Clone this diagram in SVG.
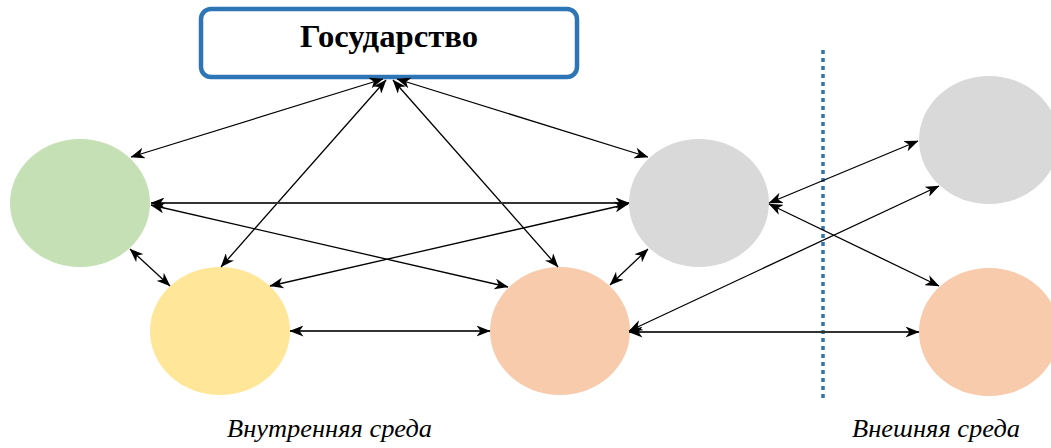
<svg xmlns="http://www.w3.org/2000/svg" width="1051" height="448" viewBox="0 0 1051 448">
<defs>
<marker id="ah" viewBox="0 0 14 11" refX="13.5" refY="5.5" markerWidth="14" markerHeight="11" markerUnits="userSpaceOnUse" orient="auto-start-reverse">
<path d="M0,0 L14,5.5 L0,11 L4,5.5 z" fill="#000"/>
</marker>
</defs>
<style>
.c{stroke:none}
.l{stroke:#000;stroke-width:1.3;fill:none;marker-start:url(#ah);marker-end:url(#ah)}
.h{stroke:#333;stroke-width:1.8}
.lbl{font-family:"Liberation Serif",serif;font-style:italic;font-size:25px;fill:#000}
</style>
<rect width="1051" height="448" fill="#fff"/>
<g id="divider">
<line x1="823" y1="50" x2="823" y2="399" stroke="#2E75B6" stroke-width="3.5" stroke-dasharray="4 4"/>
</g>
<g id="node-state">
<rect x="201" y="9" width="376" height="68" rx="10" ry="10" fill="#fff" stroke="#2E75B6" stroke-width="4.5"/>
<text x="389" y="47" text-anchor="middle" font-family="Liberation Serif,serif" font-weight="bold" font-size="32" textLength="178" lengthAdjust="spacingAndGlyphs">Государство</text>
</g>
<g id="node-green"><ellipse class="c" cx="80" cy="203" rx="70" ry="64" fill="#C5E0B4"/></g>
<g id="node-yellow"><ellipse class="c" cx="220" cy="331" rx="70" ry="64" fill="#FFE699"/></g>
<g id="node-gray-mid"><ellipse class="c" cx="699" cy="203" rx="70" ry="64" fill="#D9D9D9"/></g>
<g id="node-orange-mid"><ellipse class="c" cx="560" cy="331" rx="70" ry="64" fill="#F8CBAD"/></g>
<g id="node-gray-right"><ellipse class="c" cx="989" cy="140" rx="70" ry="64" fill="#D9D9D9"/></g>
<g id="node-orange-right"><ellipse class="c" cx="989" cy="332" rx="70" ry="64" fill="#F8CBAD"/></g>
<g id="connectors">
<line class="l" x1="383" y1="79" x2="131" y2="157"/>
<line class="l" x1="386" y1="80" x2="221" y2="267"/>
<line class="l" x1="393" y1="80" x2="558" y2="267"/>
<line class="l" x1="397" y1="79" x2="648" y2="157"/>
<line class="l h" x1="151" y1="203" x2="629" y2="203"/>
<line class="l" x1="151" y1="205" x2="508" y2="287"/>
<line class="l" x1="270" y1="286" x2="628" y2="204"/>
<line class="l" x1="130" y1="249" x2="170" y2="286"/>
<line class="l h" x1="290" y1="331" x2="490" y2="331"/>
<line class="l" x1="610" y1="285" x2="648" y2="249"/>
<line class="l" x1="769" y1="203" x2="918" y2="141"/>
<line class="l" x1="769" y1="204" x2="939" y2="286"/>
<line class="l" x1="629" y1="331" x2="939" y2="186"/>
<line class="l h" x1="629" y1="332" x2="919" y2="332"/>
</g>
<g id="labels">
<text class="lbl" x="227" y="437" textLength="205" lengthAdjust="spacingAndGlyphs">Внутренняя среда</text>
<text class="lbl" x="852" y="437" textLength="168" lengthAdjust="spacingAndGlyphs">Внешняя среда</text>
</g>
</svg>
